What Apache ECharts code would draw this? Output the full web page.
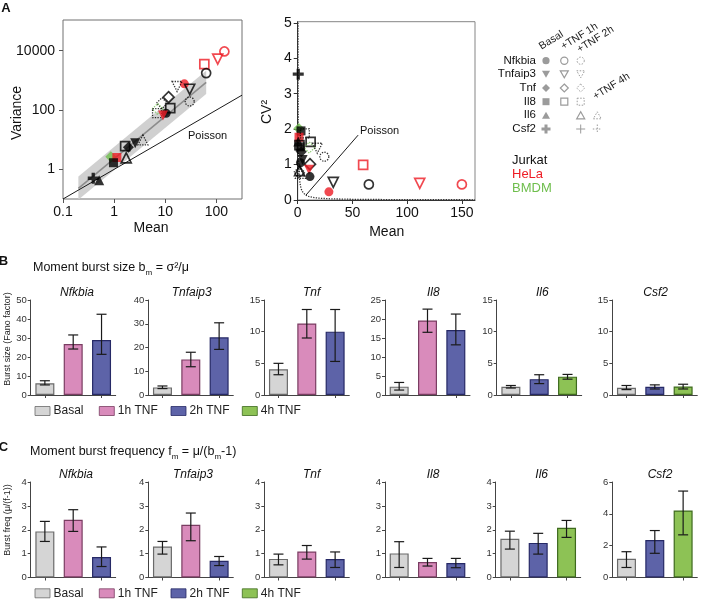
<!DOCTYPE html>
<html><head><meta charset="utf-8">
<script src="https://cdn.jsdelivr.net/npm/echarts@6.0.0/dist/echarts.min.js"></script>
<style>html,body{margin:0;padding:0;background:#fff}#c{width:708px;height:602px}</style>
</head><body><div id="c"></div>
<script>
// ================= DATA =================
// Panel A (left): log-log mean vs variance
const leftGene = ['Il8','Nfkbia','Nfkbia','Tnfaip3','Tnfaip3','Tnf','Nfkbia','Il8','Tnf','Tnf','Il8','Nfkbia','Tnfaip3','Il8','Tnf','Tnfaip3','Il6','Tnf','Il8','Il6','Il8','Csf2','Il6','Tnfaip3','Nfkbia'];
const leftCond = ['1h','1h','Basal','1h','2h','1h','2h','1h','2h','2h','2h','Basal','Basal','1h','Basal','Basal','4h','Basal','Basal','1h','Basal','Basal','Basal','1h','1h'];
const leftCell = ['HeLa','Jurkat','HeLa','Jurkat','Jurkat','Jurkat','Jurkat','Jurkat','Jurkat','BMDM','Jurkat','Jurkat','HeLa','Jurkat','Jurkat','Jurkat','Jurkat','BMDM','HeLa','Jurkat','Jurkat','Jurkat','Jurkat','HeLa','HeLa'];
const leftMean = [58,63,23.6,30,17,11.6,30,12.5,8.6,7.1,6.9,10.4,9,1.64,1.9,2.58,3.65,0.86,1.13,1.72,0.97,0.39,0.51,106,143];
const leftVar  = [3500,1750,760,500,620,270,193,115,170,108,78,78,65,6.1,5.5,7.5,9.8,2.66,2.5,2.45,1.67,0.5,0.43,5200,9400];
// regression band (mean at both ends, lower / upper variance bounds, fitted line)
const bandMean = [0.2, 63];
const bandLow  = [0.095, 347];
const bandHigh = [0.575, 2090];
const fitVar   = [0.23, 850];
const poissonLineMean = [0.1, 316.2];

// Panel A (right): mean vs CV^2
const rightGene = ['Csf2','Tnf','Il8','Il8','Il8','Il8','Tnf','Tnfaip3','Nfkbia','Il8','Il8','Tnf','Tnfaip3','Nfkbia','Tnf','Tnfaip3','Nfkbia','Il6','Tnf','Tnfaip3','Nfkbia','Il8','Nfkbia','Tnfaip3','Nfkbia','Il6','Il6'];
const rightCond = ['Basal','Basal','Basal','Basal','2h','1h','2h','2h','2h','1h','Basal','Basal','Basal','Basal','1h','Basal','Basal','4h','2h','1h','Basal','1h','1h','1h','1h','1h','Basal'];
const rightCell = ['Jurkat','BMDM','Jurkat','HeLa','Jurkat','Jurkat','BMDM','Jurkat','Jurkat','Jurkat','Jurkat','Jurkat','Jurkat','Jurkat','Jurkat','HeLa','Jurkat','Jurkat','Jurkat','Jurkat','HeLa','HeLa','Jurkat','HeLa','HeLa','Jurkat','Jurkat'];
const rightMean = [0.5,1.0,3,1.2,6.5,11.8,10.6,17.9,24.3,1.6,2.2,3.3,4.5,2.5,11.2,10.3,11.2,2.5,1.5,32.5,28.5,59.8,65,111.5,150,1.7,0.5];
const rightCV2  = [3.55,2.02,1.95,1.77,1.88,1.64,1.48,1.46,1.22,1.55,1.5,1.36,1.13,1.05,1.01,0.85,0.66,0.75,0.78,0.5,0.23,0.99,0.44,0.47,0.44,0.83,1.65];
const poissonCurveMean = [0.2,0.22,0.25,0.3,0.35,0.4,0.5,0.6,0.7,0.85,1,1.2,1.5,2,2.5,3,4,5,7,10,15,20,30,50,80,120,162];
const poissonLabelLine = [[7.6,0.14],[55.2,1.83]];

// Panels B & C
const genes = ['Nfkbia','Tnfaip3','Tnf','Il8','Il6','Csf2'];
const barConds = [
  ['Basal','1h TNF','2h TNF'],['Basal','1h TNF','2h TNF'],['Basal','1h TNF','2h TNF'],
  ['Basal','1h TNF','2h TNF'],['Basal','2h TNF','4h TNF'],['Basal','2h TNF','4h TNF']];
const sizeVal = [[6.2,26.8,28.9],[3.2,15.0,24.3],[4.05,11.3,10.0],[2.2,19.6,17.1],[1.3,2.5,2.9],[1.15,1.3,1.35]];
const sizeLo  = [[5.3,24.2,21.4],[2.7,11.9,19.2],[3.2,9.0,5.3],[1.3,16.5,13.2],[1.1,1.8,2.5],[0.85,0.95,0.95]];
const sizeHi  = [[7.5,31.6,42.5],[3.8,18.0,30.4],[5.0,13.5,13.5],[3.3,22.6,21.3],[1.5,3.2,3.25],[1.5,1.6,1.7]];
const sizeMax = [50,40,15,25,15,15];
const sizeStep = [10,10,5,5,5,5];
const freqVal = [[1.93,2.42,0.86],[1.30,2.21,0.70],[0.78,1.09,0.77],[1.01,0.65,0.61],[1.62,1.45,2.08],[1.18,2.36,4.21]];
const freqLo  = [[1.51,1.93,0.46],[0.98,1.54,0.50],[0.53,0.77,0.42],[0.42,0.48,0.41],[1.19,0.98,1.68],[0.63,1.52,2.68]];
const freqHi  = [[2.35,2.84,1.28],[1.51,2.70,0.88],[0.98,1.34,1.07],[1.50,0.80,0.80],[1.94,1.85,2.39],[1.62,2.95,5.43]];
const freqMax = [4,4,4,4,4,6];
const freqStep = [1,1,1,1,1,2];
const legendConds = ['Basal','1h TNF','2h TNF','4h TNF'];
const cellLines = ['Jurkat','HeLa','BMDM'];

// ================= STYLE =================
const FONT = '"Liberation Sans", Arial, Helvetica, sans-serif';
const cellColor = {Jurkat:'#000000', HeLa:'#ee1c24', BMDM:'#6fbe4d'};
const condFill = {'Basal':'#d5d5d5','1h TNF':'#d98bbb','2h TNF':'#5d63a8','4h TNF':'#8dc255'};
const condBorder = {'Basal':'#6a6a6a','1h TNF':'#7a3d62','2h TNF':'#262966','4h TNF':'#3e6a1e'};
const SYM = {
  Nfkbia:{symbol:'circle', size:9},
  Tnfaip3:{symbol:'path://M0,0L10,0L5,9Z', size:10},
  Tnf:{symbol:'diamond', size:11},
  Il8:{symbol:'rect', size:9},
  Il6:{symbol:'triangle', size:10},
  Csf2:{symbol:'path://M3.5,0H6.5V3.5H10V6.5H6.5V10H3.5V6.5H0V3.5H3.5Z', size:11}
};
function pointItem(gene, cond, cell, x, y){
  const s = SYM[gene], col = cellColor[cell];
  let st;
  if (cond === 'Basal') st = {color: col, borderWidth: 0};
  else if (cond === '1h') st = {color:'rgba(255,255,255,0)', borderColor: col, borderWidth: 1.7};
  else st = {color:'rgba(255,255,255,0)', borderColor: col, borderWidth: 1.3, borderType:'dotted'};
  return {value:[x,y], symbol:s.symbol, symbolSize:s.size, itemStyle:st};
}
const leftData = leftGene.map((g,i)=>pointItem(g,leftCond[i],leftCell[i],leftMean[i],leftVar[i]));
const rightData = rightGene.map((g,i)=>pointItem(g,rightCond[i],rightCell[i],rightMean[i],rightCV2[i]));

function fmtLog(v){
  const e = Math.round(Math.log10(v));
  return e < 0 ? Math.pow(10,e).toFixed(-e) : String(Math.round(Math.pow(10,e)));
}

const grids = [
  {left:63, top:20, width:179, height:179, show:true, borderColor:'#707070', borderWidth:1},
  {left:297.7, top:21.7, width:177.3, height:178.3, show:true, borderColor:'#858585', borderWidth:1}
];
const xAxes = [
  {gridIndex:0, type:'log', logBase:10, min:0.1, max:316.2,
   axisLine:{show:false}, axisTick:{show:true, length:4, lineStyle:{color:'#555'}},
   axisLabel:{fontSize:14, color:'#111', fontFamily:FONT, margin:6, showMaxLabel:false, formatter:fmtLog},
   splitLine:{show:false}, minorTick:{show:false}},
  {gridIndex:1, type:'value', min:0, max:162, interval:50,
   axisLine:{show:true, lineStyle:{color:'#333'}}, axisTick:{show:true, length:4, lineStyle:{color:'#333'}},
   axisLabel:{fontSize:14, color:'#111', fontFamily:FONT, margin:6, showMaxLabel:false},
   splitLine:{show:false}}
];
const yAxes = [
  {gridIndex:0, type:'log', logBase:100, min:0.1, max:108000,
   axisLine:{show:false}, axisTick:{show:true, length:4, lineStyle:{color:'#555'}},
   axisLabel:{fontSize:14, color:'#111', fontFamily:FONT, margin:8, showMinLabel:false, showMaxLabel:false, formatter:fmtLog},
   splitLine:{show:false}},
  {gridIndex:1, type:'value', min:0, max:5.03, interval:1,
   axisLine:{show:true, lineStyle:{color:'#333'}}, axisTick:{show:true, length:4, lineStyle:{color:'#333'}},
   axisLabel:{fontSize:14, color:'#111', fontFamily:FONT, margin:6, showMaxLabel:false},
   splitLine:{show:false}}
];

const series = [
  {type:'custom', xAxisIndex:0, yAxisIndex:0, silent:true, z:1, data:[[bandMean[0], bandLow[0]]],
   renderItem:function(params, api){
     const pts = [api.coord([bandMean[0], bandLow[0]]), api.coord([bandMean[0], bandHigh[0]]),
                  api.coord([bandMean[1], bandHigh[1]]), api.coord([bandMean[1], bandLow[1]])];
     const cs = params.coordSys;
     return {type:'polygon', shape:{points:pts}, style:{fill:'#d0d0d0', stroke:null},
       clipPath:{type:'rect', shape:{x:cs.x, y:cs.y, width:cs.width, height:cs.height}}};
   }},
  {type:'line', xAxisIndex:0, yAxisIndex:0, silent:true, z:2, symbol:'none',
   data:[[bandMean[0], fitVar[0]],[bandMean[1], fitVar[1]]], lineStyle:{color:'#8c8c8c', width:1.6}},
  {type:'line', xAxisIndex:0, yAxisIndex:0, silent:true, z:2, symbol:'none',
   data:poissonLineMean.map(m=>[m,m]), lineStyle:{color:'#000', width:0.9}},
  {type:'scatter', xAxisIndex:0, yAxisIndex:0, silent:true, z:5, data:leftData},
  {type:'line', xAxisIndex:1, yAxisIndex:1, silent:true, z:2, symbol:'none',
   data:poissonCurveMean.map(m=>[m, 1/m]), lineStyle:{color:'#333', width:1.3, type:'dotted'}},
  {type:'line', xAxisIndex:1, yAxisIndex:1, silent:true, z:2, symbol:'none',
   data:poissonLabelLine, lineStyle:{color:'#000', width:0.9}},
  {type:'scatter', xAxisIndex:1, yAxisIndex:1, silent:true, z:5, data:rightData}
];

const bLeft = [30.7,148.3,264.3,385,496.7,612.3];
const cLeft = [30.7,148.3,264.3,385,495.7,612.3];

function errRender(params, api){
  const x = api.value(0);
  const lo = api.coord([x, api.value(1)]);
  const hi = api.coord([x, api.value(2)]);
  const w = 5, st = {stroke:'#1a1a1a', lineWidth:1.2};
  return {type:'group', children:[
    {type:'line', shape:{x1:lo[0], y1:lo[1], x2:hi[0], y2:hi[1]}, style:st},
    {type:'line', shape:{x1:hi[0]-w, y1:hi[1], x2:hi[0]+w, y2:hi[1]}, style:st},
    {type:'line', shape:{x1:lo[0]-w, y1:lo[1], x2:lo[0]+w, y2:lo[1]}, style:st}
  ]};
}

function addBarPanel(gIdx, left, top, height, vals, los, his, maxv, step){
  const gi = grids.length;
  grids.push({left:left, top:top, width:85, height:height});
  xAxes.push({gridIndex:gi, type:'category', data:barConds[gIdx],
    axisLine:{show:true, lineStyle:{color:'#444', width:1}},
    axisTick:{show:true, alignWithLabel:true, length:3, lineStyle:{color:'#444'}},
    axisLabel:{show:false}, splitLine:{show:false}});
  yAxes.push({gridIndex:gi, type:'value', min:0, max:maxv, interval:step,
    axisLine:{show:true, lineStyle:{color:'#444', width:1}},
    axisTick:{show:true, length:3, lineStyle:{color:'#444'}},
    axisLabel:{fontSize:9.5, color:'#333', fontFamily:FONT, margin:4},
    splitLine:{show:false}});
  series.push({type:'bar', xAxisIndex:gi, yAxisIndex:gi, barWidth:19, silent:true, z:2,
    data: vals[gIdx].map((v,i)=>({value:v, itemStyle:{color:condFill[barConds[gIdx][i]],
      borderColor:condBorder[barConds[gIdx][i]], borderWidth:1.2}}))});
  series.push({type:'custom', xAxisIndex:gi, yAxisIndex:gi, silent:true, z:4,
    data: vals[gIdx].map((v,i)=>[i, los[gIdx][i], his[gIdx][i]]),
    encode:{x:0, y:[1,2]}, renderItem:errRender});
}
genes.forEach((g,i)=>addBarPanel(i, bLeft[i], 300, 95, sizeVal, sizeLo, sizeHi, sizeMax[i], sizeStep[i]));
genes.forEach((g,i)=>addBarPanel(i, cLeft[i], 482, 95.5, freqVal, freqLo, freqHi, freqMax[i], freqStep[i]));

// ================= GRAPHIC TEXT / LEGENDS =================
const graphic = [];
function txt(x, y, text, o){
  o = o || {};
  graphic.push({type:'text', x:x, y:y, rotation:o.rot||0, silent:true, z:10,
    style:{text:text, fill:o.color||'#111', fontSize:o.size||12, fontFamily:FONT,
      fontStyle:o.italic?'italic':'normal', fontWeight:o.bold?'bold':'normal',
      align:o.align||'center', verticalAlign:o.va||'middle', rich:o.rich}});
}
txt(6, 8, 'A', {bold:true, size:13});
txt(3.5, 261, 'B', {bold:true, size:13});
txt(3.5, 447, 'C', {bold:true, size:13});
txt(17, 113, 'Variance', {size:14, rot:Math.PI/2});
txt(151, 228, 'Mean', {size:14});
txt(266.7, 112, 'CV²', {size:14, rot:Math.PI/2});
txt(386.7, 232, 'Mean', {size:14});
txt(188, 136, 'Poisson', {size:11, align:'left'});
txt(360, 131, 'Poisson', {size:11, align:'left'});

// legend of panel A
const genRowY = [60.7, 74.3, 88, 101.7, 115.3, 129];
const colX = [546, 564.3, 580.7, 597.3];
const legRows = {
  Nfkbia:[[0,'f'],[1,'o'],[2,'d']], Tnfaip3:[[0,'f'],[1,'o'],[2,'d']], Tnf:[[0,'f'],[1,'o'],[2,'d']],
  Il8:[[0,'f'],[1,'o'],[2,'d']], Il6:[[0,'f'],[2,'o'],[3,'d']], Csf2:[[0,'f'],[2,'o'],[3,'d']]
};
function legSym(gene, style, cx, cy){
  const grey = '#9b9b9b';
  let st;
  if (style === 'f') st = {fill:grey, stroke:null};
  else if (style === 'o') st = {fill:'none', stroke:grey, lineWidth:1.2};
  else st = {fill:'none', stroke:grey, lineWidth:1, lineDash:[1.5,1.5]};
  switch(gene){
    case 'Nfkbia': return {type:'circle', shape:{cx:cx, cy:cy, r:3.6}, style:st};
    case 'Tnfaip3': return {type:'polygon', shape:{points:[[cx-4,cy-3.5],[cx+4,cy-3.5],[cx,cy+3.5]]}, style:st};
    case 'Tnf': return {type:'polygon', shape:{points:[[cx,cy-4],[cx+4,cy],[cx,cy+4],[cx-4,cy]]}, style:st};
    case 'Il8': return {type:'rect', shape:{x:cx-3.5, y:cy-3.5, width:7, height:7}, style:st};
    case 'Il6': return {type:'polygon', shape:{points:[[cx-4,cy+3.5],[cx+4,cy+3.5],[cx,cy-3.5]]}, style:st};
    default: {
      const s2 = {stroke:grey, lineWidth: style==='f'?3:1, lineDash: style==='d'?[1.5,1.5]:null};
      return {type:'group', children:[
        {type:'line', shape:{x1:cx-4.5, y1:cy, x2:cx+4.5, y2:cy}, style:s2},
        {type:'line', shape:{x1:cx, y1:cy-4.5, x2:cx, y2:cy+4.5}, style:s2}]};
    }
  }
}
genes.forEach((g,i)=>{
  txt(536, genRowY[i], g, {size:11.5, align:'right'});
  legRows[g].forEach(([c,s])=>{ const el = legSym(g, s, colX[c], genRowY[i]); el.silent = true; graphic.push(el); });
});
const rot = 32*Math.PI/180;
txt(543, 52, 'Basal', {size:10.5, align:'left', va:'bottom', rot:rot, color:'#222'});
txt(565, 52, '+TNF 1h', {size:10.5, align:'left', va:'bottom', rot:rot, color:'#222'});
txt(581, 55, '+TNF 2h', {size:10.5, align:'left', va:'bottom', rot:rot, color:'#222'});
txt(597, 102, '+TNF 4h', {size:10.5, align:'left', va:'bottom', rot:rot, color:'#222'});
cellLines.forEach((c,i)=> txt(512, 160 + i*14.2, c, {size:13, align:'left', color: c==='Jurkat' ? '#111' : cellColor[c]}));

// Panel B / C titles
const subRich = {sub:{fontSize:8, fontFamily:FONT, fill:'#111', padding:[9,0,0,0]}};
txt(33, 268, 'Moment burst size b{sub|m} = σ²/μ', {size:12.5, align:'left', rich:subRich});
txt(30, 452, 'Moment burst frequency f{sub|m} = μ/(b{sub|m}-1)', {size:12.5, align:'left', rich:subRich});
const bTitleX = [77, 191.7, 311.7, 433.3, 542.3, 655.7];
const cTitleX = [76, 193, 311.7, 433, 541.7, 660];
genes.forEach((g,i)=>{
  txt(bTitleX[i], 293, g, {size:12, italic:true});
  txt(cTitleX[i], 474.3, g, {size:12, italic:true});
});
txt(8, 339, 'Burst size (Fano factor)', {size:9, rot:Math.PI/2, color:'#222'});
txt(8, 520, 'Burst freq (μ/(f-1))', {size:9, rot:Math.PI/2, color:'#222'});

// Bar legends
const legX = [35, 99.3, 171, 242.3];
[411, 593.3].forEach(yc=>{
  legendConds.forEach((c,i)=>{
    graphic.push({type:'rect', silent:true, shape:{x:legX[i], y:yc-4.5, width:15, height:9},
      style:{fill:condFill[c], stroke:condBorder[c], lineWidth:0.8}});
    txt(legX[i]+18.5, yc, c, {size:12, align:'left', color:'#222'});
  });
});

const chart = echarts.init(document.getElementById('c'), null, {renderer:'canvas', width:708, height:602});
chart.setOption({
  animation:false,
  backgroundColor:'#ffffff',
  textStyle:{fontFamily:FONT},
  grid:grids, xAxis:xAxes, yAxis:yAxes, series:series, graphic:graphic
});
</script>
</body></html>
